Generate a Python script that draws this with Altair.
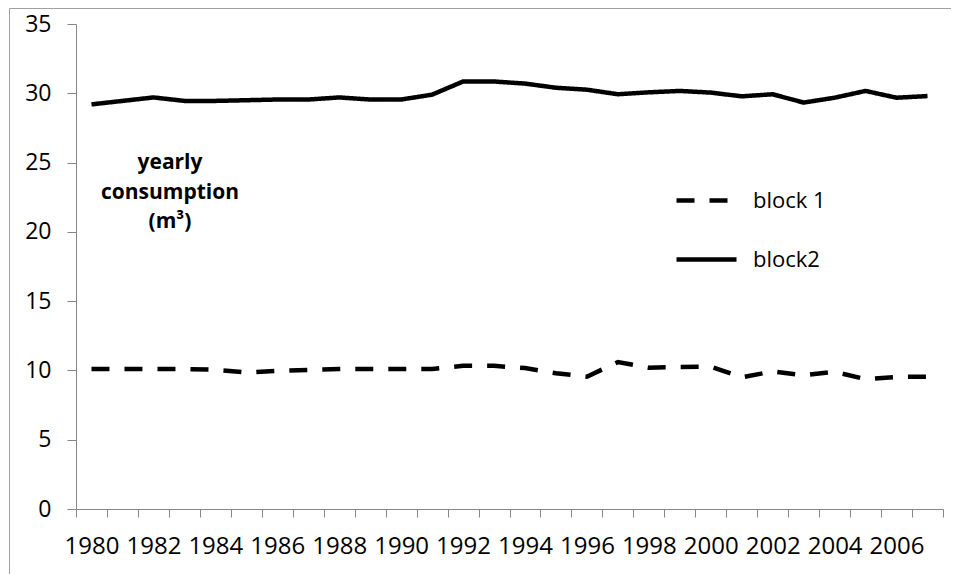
import altair as alt
import pandas as pd

years = list(range(1980, 2008))
block1 = [10.1, 10.1, 10.1, 10.1, 10.05, 9.85, 9.97, 10.03, 10.1, 10.1, 10.1, 10.1, 10.33, 10.33,
          10.17, 9.8, 9.55, 10.6, 10.2, 10.25, 10.27, 9.5, 9.93, 9.65, 9.9, 9.37, 9.53, 9.55]
block2 = [29.2, 29.45, 29.7, 29.45, 29.45, 29.5, 29.55, 29.55, 29.7, 29.55, 29.55, 29.9, 30.85, 30.85,
          30.7, 30.4, 30.26, 29.93, 30.07, 30.17, 30.05, 29.78, 29.93, 29.33, 29.68, 30.17, 29.68, 29.8]
series_names = ["block 1", "block2"]
y_ticks = [0, 5, 10, 15, 20, 25, 30, 35]
annotation_lines = ["yearly", "consumption", "(m³)"]

rows = []
for i, yr in enumerate(years):
    rows.append({"year": str(yr), "series": series_names[0], "value": block1[i]})
    rows.append({"year": str(yr), "series": series_names[1], "value": block2[i]})
df = pd.DataFrame(rows)

AXIS_GRAY = "#868686"
FONT = "Open Sans"

x_enc = alt.X(
    "year:O",
    bandPosition=0.5,
    scale=alt.Scale(type="band", paddingInner=0, paddingOuter=0),
    axis=alt.Axis(
        title=None,
        tickBand="extent",
        labelAngle=0,
        labelOverlap=False,
        labelExpr="toNumber(datum.value) % 2 == 0 ? datum.value : ''",
        tickSize=8,
        tickColor=AXIS_GRAY,
        domainColor=AXIS_GRAY,
        labelFont=FONT,
        labelFontSize=24,
        labelColor="black",
        labelPadding=17,
    ),
)
y_enc = alt.Y(
    "value:Q",
    scale=alt.Scale(domain=[0, 35], nice=False, zero=True),
    axis=alt.Axis(
        title=None,
        values=y_ticks,
        grid=False,
        tickSize=9,
        tickColor=AXIS_GRAY,
        domainColor=AXIS_GRAY,
        labelFont=FONT,
        labelFontSize=23,
        labelColor="black",
        labelPadding=16,
    ),
)

lines = alt.Chart(df).mark_line(strokeWidth=4.5, color="black", strokeCap="butt").encode(
    x=x_enc,
    y=y_enc,
    strokeDash=alt.StrokeDash(
        "series:N",
        scale=alt.Scale(domain=series_names, range=[[18, 15], [1, 0]]),
        legend=alt.Legend(
            title=None,
            orient="none",
            legendX=598,
            legendY=144,
            symbolType="stroke",
            symbolSize=3600,
            symbolStrokeWidth=4.5,
            symbolStrokeColor="black",
            labelFont=FONT,
            labelFontSize=22,
            labelColor="black",
            labelOffset=14,
            rowPadding=15,
            padding=0,
        ),
    ),
)

annot = alt.Chart(pd.DataFrame({"label": ["\n".join(annotation_lines)]})).mark_text(
    font=FONT, fontSize=21, fontWeight="bold", color="black", align="center",
    baseline="middle", lineBreak="\n", lineHeight=29.5,
).encode(x=alt.value(94), y=alt.value(139), text="label:N")

frame = alt.Chart(pd.DataFrame({"frame": [0]})).mark_rect(
    filled=False, stroke="#a0a0a0", strokeWidth=1
).encode(x=alt.value(-66.5), y=alt.value(-15.5), x2=alt.value(900), y2=alt.value(600))

chart = alt.layer(frame, lines, annot).properties(
    width=867,
    height=485,
    padding={"left": 68, "top": 16, "right": 8, "bottom": 65},
    autosize="none",
).configure_view(stroke="transparent")

chart.save("out.html", embed_options={"renderer": "svg", "actions": False})
